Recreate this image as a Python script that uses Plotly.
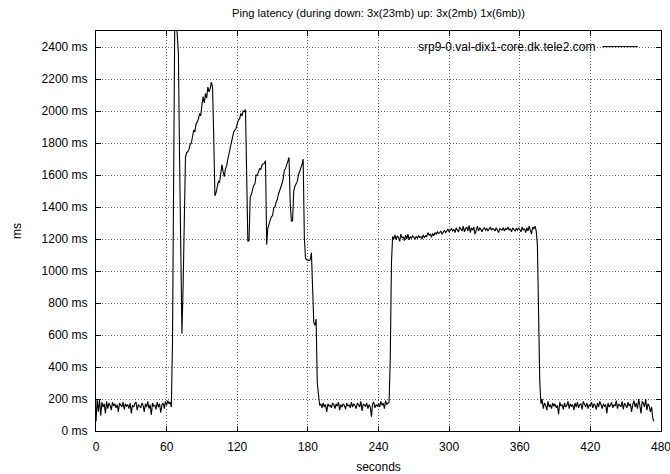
import plotly.graph_objects as go

# ---- data (one sample per second) ----
latency_ms = [
    # 0-59 s
    60, 200, 120, 195, 95, 180, 150, 170, 110, 185,
    140, 175, 160, 130, 180, 155, 170, 145, 165, 120,
    175, 160, 150, 180, 135, 170, 155, 165, 140, 175,
    110, 160, 150, 170, 180, 130, 165, 155, 145, 175,
    160, 120, 170, 150, 185, 140, 165, 100, 175, 155,
    160, 135, 180, 150, 170, 115, 165, 175, 140, 185,
    # 60-119 s
    160, 190, 170, 180, 150, 560, 1540, 2650, 2600, 2470,
    2360, 1700, 1080, 610, 900, 1400, 1710, 1740, 1745, 1760,
    1790, 1800, 1850, 1880, 1870, 1920, 1930, 1950, 1985, 1970,
    2040, 2090, 2050, 2110, 2080, 2150, 2120, 2140, 2180, 2150,
    1850, 1470, 1490, 1540, 1560, 1555, 1600, 1665, 1620, 1590,
    1640, 1655, 1700, 1735, 1760, 1810, 1830, 1870, 1880, 1890,
    # 120-179 s
    1920, 1944, 1950, 1985, 1970, 2000, 1996, 2010, 1600, 1185,
    1190, 1460, 1480, 1520, 1535, 1545, 1600, 1598, 1620, 1640,
    1635, 1662, 1670, 1672, 1690, 1165, 1270, 1300, 1318, 1340,
    1345, 1395, 1400, 1430, 1445, 1480, 1500, 1520, 1545, 1575,
    1630, 1640, 1660, 1690, 1710, 1420, 1310, 1315, 1500, 1530,
    1545, 1560, 1600, 1620, 1640, 1665, 1700, 1210, 1080, 1070,
    # 180-239 s
    1068, 1065, 1070, 1115, 900, 680, 660, 700, 300, 210,
    160, 170, 145, 175, 150, 165, 120, 170, 155, 160,
    145, 175, 165, 140, 170, 155, 180, 130, 165, 150,
    170, 160, 135, 175, 155, 165, 145, 180, 150, 170,
    160, 140, 175, 165, 150, 185, 125, 170, 160, 155,
    175, 140, 165, 150, 90, 170, 180, 145, 165, 155,
    # 240-299 s
    170, 150, 185, 160, 175, 140, 190, 165, 175, 180,
    450, 1050, 1215, 1200, 1225, 1195, 1220, 1210, 1185, 1230,
    1205, 1215, 1190, 1225, 1200, 1230, 1195, 1215, 1205, 1220,
    1210, 1200, 1215, 1205, 1220, 1210, 1215, 1200, 1225, 1210,
    1220, 1215, 1240, 1225, 1230, 1210, 1235, 1220, 1240, 1230,
    1245, 1235, 1240, 1250, 1230, 1245, 1255, 1240, 1250, 1260,
    # 300-359 s
    1245, 1255, 1265, 1250, 1260, 1240, 1270, 1255, 1245, 1275,
    1260, 1250, 1280, 1245, 1265, 1275, 1250, 1285, 1240, 1270,
    1255, 1275, 1230, 1265, 1280, 1250, 1270, 1260, 1245, 1265,
    1270, 1255, 1265, 1250, 1260, 1275, 1255, 1265, 1260, 1250,
    1270, 1255, 1240, 1265, 1260, 1255, 1270, 1250, 1265, 1260,
    1275, 1255, 1265, 1245, 1270, 1260, 1250, 1265, 1255, 1270,
    # 360-419 s
    1260, 1245, 1275, 1255, 1265, 1240, 1270, 1250, 1280, 1260,
    1230, 1275, 1265, 1280, 1250, 1160, 740, 310, 170, 200,
    140, 175, 160, 130, 185, 150, 165, 140, 175, 155,
    170, 145, 160, 105, 180, 155, 165, 135, 175, 150,
    160, 185, 140, 170, 155, 165, 130, 175, 150, 180,
    145, 165, 170, 135, 185, 160, 150, 175, 140, 165,
    # 420-474 s
    155, 180, 145, 170, 160, 135, 175, 150, 185, 165,
    140, 170, 155, 165, 110, 175, 150, 160, 180, 145,
    165, 155, 190, 140, 170, 160, 150, 185, 135, 175,
    160, 145, 180, 155, 170, 120, 165, 190, 150, 175,
    140, 200, 160, 110, 185, 175, 150, 200, 130, 170,
    155, 120, 150, 80, 60,
]
seconds = list(range(len(latency_ms)))

x_ticks = [0, 60, 120, 180, 240, 300, 360, 420, 480]
y_ticks = [0, 200, 400, 600, 800, 1000, 1200, 1400, 1600, 1800, 2000, 2200, 2400]
y_tick_labels = [f"{v} ms" for v in y_ticks]

series_name = "srp9-0.val-dix1-core.dk.tele2.com"
title_text = "Ping latency (during down: 3x(23mb) up: 3x(2mb) 1x(6mb))"

FONT = "Liberation Sans, Arial, Helvetica, sans-serif"

fig = go.Figure()
fig.add_trace(go.Scatter(
    x=seconds, y=latency_ms, mode="lines", name=series_name,
    line=dict(color="#000000", width=1.1), showlegend=False,
))

# gnuplot-style key: white box hiding the grid, text then line sample
fig.add_shape(type="rect", xref="paper", yref="paper",
              x0=0.428, x1=0.997, y0=0.937, y1=0.997,
              fillcolor="white", line=dict(width=0), layer="between")
fig.add_annotation(xref="paper", yref="paper", x=0.886, y=0.961,
                   text=series_name, showarrow=False,
                   xanchor="right", yanchor="middle",
                   font=dict(family=FONT, size=12, color="#000"))
fig.add_shape(type="line", xref="paper", yref="paper",
              x0=0.896, x1=0.959, y0=0.961, y1=0.961,
              line=dict(color="#000", width=1))

axis_common = dict(
    showline=True, linecolor="#000", linewidth=1, mirror="ticks",
    ticks="inside", ticklen=5, tickcolor="#000", tickwidth=1,
    showgrid=True, gridcolor="#666", griddash="1px,2px", gridwidth=1,
    zeroline=False, tickfont=dict(family=FONT, size=12, color="#000"),
    ticklabeloverflow="allow", automargin=False,
)

fig.update_xaxes(range=[0, 480], tickvals=x_ticks, ticklabelstandoff=5,
                 title=dict(text="seconds", font=dict(family=FONT, size=12, color="#000"), standoff=9),
                 **axis_common)
fig.update_yaxes(range=[0, 2500], tickvals=y_ticks, ticktext=y_tick_labels, ticklabelstandoff=5,
                 title=dict(text="ms", font=dict(family=FONT, size=12, color="#000"), standoff=17),
                 **axis_common)

fig.update_layout(
    width=670, height=474,
    margin=dict(l=96, r=9, t=31, b=43),
    paper_bgcolor="white", plot_bgcolor="white",
    title=dict(text=title_text, x=0.5, xref="paper", y=1 - 13 / 474, yref="container",
               xanchor="center", yanchor="middle",
               font=dict(family=FONT, size=11.2, color="#000")),
)

fig.write_html("out.html")
